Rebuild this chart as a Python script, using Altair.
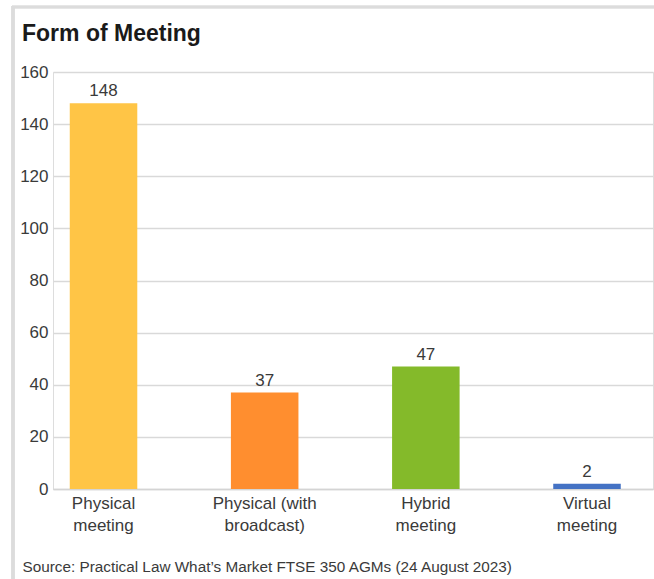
import altair as alt
import pandas as pd

categories = ["Physical\nmeeting", "Physical (with\nbroadcast)", "Hybrid\nmeeting", "Virtual\nmeeting"]
values = [148, 37, 47, 2]
colors = ["#FFC546", "#FF8E2F", "#84BA2A", "#4472C4"]
y_ticks = [0, 20, 40, 60, 80, 100, 120, 140, 160]
title_text = "Form of Meeting"
source_text = "Source: Practical Law What\u2019s Market FTSE 350 AGMs (24 August 2023)"

df = pd.DataFrame({"cat": categories, "val": values, "color": colors})

FONT = "Liberation Sans"
TXT = "#3a3a3a"
W, H = 600, 417

x_enc = alt.X(
    "cat:N",
    sort=categories,
    scale=alt.Scale(paddingInner=0.581, paddingOuter=0.152, align=0.342),
    axis=alt.Axis(
        title=source_text,
        titleX=-31, titleY=82, titleAnchor="start", titleAlign="left",
        titleBaseline="alphabetic", titleFont=FONT, titleFontSize=15.3,
        titleFontWeight="normal", titleColor=TXT,
        labelExpr="split(datum.label, '\\n')",
        labelAngle=0, labelFont=FONT, labelFontSize=17, labelColor=TXT,
        labelLineHeight=22, labelPadding=6, ticks=False,
        domain=True, domainColor="#d4d4d4", domainWidth=1.5,
    ),
)
y_enc = alt.Y(
    "val:Q",
    scale=alt.Scale(domain=[0, 160], nice=False),
    axis=alt.Axis(
        title=None, values=y_ticks, ticks=False, domain=False,
        labelFont=FONT, labelFontSize=17, labelColor=TXT, labelPadding=5,
        grid=True, gridColor="#d9d9d9", gridWidth=1.5,
    ),
)

bars = alt.Chart(df).mark_bar().encode(
    x=x_enc, y=y_enc,
    color=alt.Color("color:N", scale=None),
)
labels = alt.Chart(df).mark_text(
    dy=-7, baseline="alphabetic", font=FONT, fontSize=17, color=TXT
).encode(x=alt.X("cat:N", sort=categories), y="val:Q", text="val:Q")

border_top = alt.Chart(df).mark_rule(color="#dcdcdc", strokeWidth=2.5).encode(
    x=alt.value(-41), x2=alt.value(W + 5), y=alt.value(-65)
)
border_left = alt.Chart(df).mark_rule(color="#dcdcdc", strokeWidth=3).encode(
    x=alt.value(-40), y=alt.value(-66), y2=alt.value(H + 95)
)
title = alt.Chart(df.head(1)).mark_text(
    text=title_text, align="left", baseline="alphabetic", font=FONT,
    fontSize=23, fontWeight="bold", color="#1a1a1a",
).encode(x=alt.value(-31), y=alt.value(-31))

chart = alt.layer(border_top, border_left, bars, labels, title).properties(
    width=W, height=H,
    autosize=alt.AutoSizeParams(type="none"),
    padding={"left": 53, "top": 72, "right": 1, "bottom": 90},
).configure_view(stroke=None).configure(background="white")

chart.save("out.html", embed_options={"renderer": "svg", "actions": False})
